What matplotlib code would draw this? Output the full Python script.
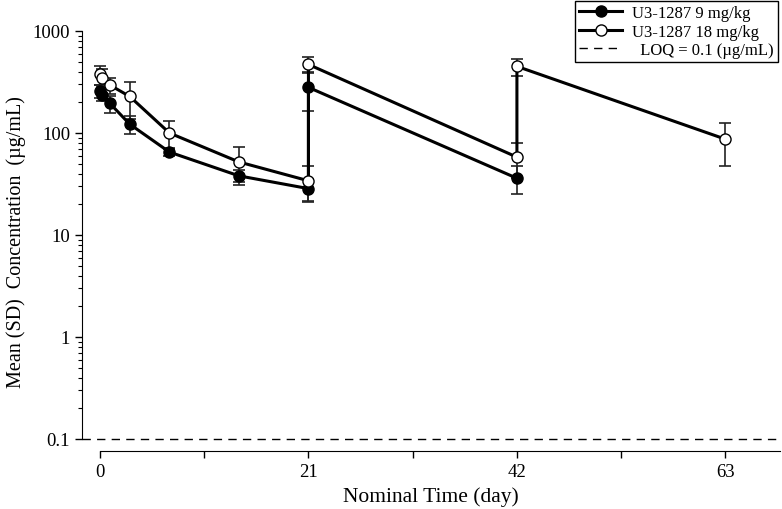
import matplotlib
matplotlib.use("Agg")
import matplotlib.pyplot as plt
from matplotlib.lines import Line2D
from matplotlib.ticker import NullFormatter

plt.rcParams['font.family'] = ['Liberation Serif', 'DejaVu Serif']

# 9 mg/kg (filled)
t9 = [0.0, 0.2, 1, 3, 7, 14, 21, 21, 42]
c9 = [258, 238, 195, 122, 65, 38, 28.5, 280, 36]
sd9 = [40, 30, 37, 24, 6, 5, 7, 115, 11]

# 18 mg/kg (open)
t18 = [0.0, 0.2, 1, 3, 7, 14, 21, 21, 42, 42, 63]
c18 = [375, 350, 295, 228, 100, 52, 34, 470, 58, 450, 87]
sd18 = [80, 70, 55, 90, 30, 21, 13, 80, 22, 85, 39]

loq = 0.1
xticks = [0, 21, 42, 63]
xminor = [10.5, 31.5, 52.5]
yticks = [0.1, 1, 10, 100, 1000]
yticklabels = ['0.1', '1', '10', '100', '1000']
yminor = [k * 10.0 ** e for e in range(-1, 3) for k in range(2, 10)]

fig = plt.figure(figsize=(7.82, 5.10), dpi=100)
ax = fig.add_axes([82/782, 1 - 452/510, (780-82)/782, (452-32)/510])

lw = 2.2
ms = 8
ax.errorbar(t9, c9, yerr=sd9, fmt='none', ecolor='#222222', elinewidth=1.2,
            capsize=4.5, capthick=1.2, zorder=2)
ax.errorbar(t18, c18, yerr=sd18, fmt='none', ecolor='#222222', elinewidth=1.2,
            capsize=4.5, capthick=1.2, zorder=2)
ax.plot(t9, c9, '-', color='black', lw=lw, marker='o', ms=ms,
        mfc='black', mec='black', zorder=3)
ax.plot(t18, c18, '-', color='black', lw=lw, marker='o', ms=ms,
        mfc='white', mec='black', mew=1.0, zorder=4)
ax.axhline(loq, color='black', lw=1.0, ls=(0, (6, 4.5)), zorder=1)

ax.set_yscale('log')
ax.set_xlim(-1.81, 68.5)
ax.set_ylim(10 ** (-1 - 12/102), 1000)
ax.set_yticks(yticks)
ax.set_yticklabels(yticklabels)
ax.set_yticks(yminor, minor=True)
ax.yaxis.set_minor_formatter(NullFormatter())
ax.set_xticks(xticks)
ax.set_xticks(xminor, minor=True)
ax.spines['top'].set_visible(False)
ax.spines['right'].set_visible(False)
ax.spines['left'].set_bounds(0.1, 1000)
ax.spines['bottom'].set_bounds(0, 68.5)
ax.tick_params(axis='both', which='major', direction='out', length=5, width=1,
               labelsize=13.5)
ax.tick_params(axis='y', which='minor', direction='out', length=3, width=0.8)
ax.tick_params(axis='x', which='minor', direction='out', length=5, width=1)

ax.set_xlabel('Nominal Time (day)', fontsize=15.5, labelpad=5)
ax.set_ylabel('Mean (SD)  Concentration  (\u00b5g/mL)', fontsize=14.5, labelpad=5)

handles = [
    Line2D([], [], color='black', lw=lw, marker='o', ms=ms, mfc='black', mec='black'),
    Line2D([], [], color='black', lw=lw, marker='o', ms=ms, mfc='white', mec='black'),
    Line2D([], [], color='black', lw=1.0, ls=(0, (6, 4.5))),
]
labels = ['U3-1287 9 mg/kg', 'U3-1287 18 mg/kg', '  LOQ = 0.1 (\u00b5g/mL)']
leg = fig.legend(handles, labels, loc='upper right', bbox_to_anchor=(778/782, 1 - 2/510),
                 fontsize=12, frameon=True, fancybox=False, edgecolor='black',
                 framealpha=1, borderpad=0.25, labelspacing=0.15, handlelength=2.6,
                 handletextpad=0.6, borderaxespad=0)
leg.get_frame().set_linewidth(1.0)

fig.savefig('out.png', dpi=100)
